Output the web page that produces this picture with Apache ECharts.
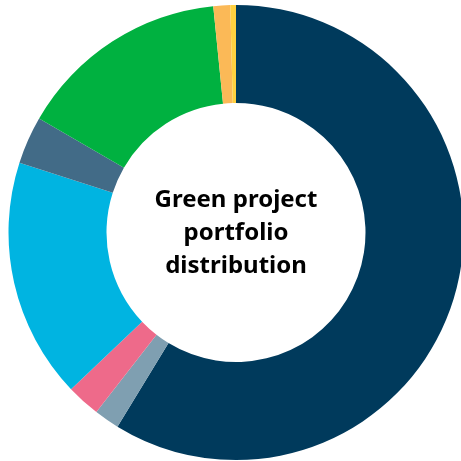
<!DOCTYPE html>
<html>
<head>
<meta charset="utf-8">
<script src="https://cdn.jsdelivr.net/npm/echarts@6/dist/echarts.min.js"></script>
<style>
  html, body { margin: 0; padding: 0; background: #fff; }
  #chart { width: 461px; height: 461px; }
</style>
</head>
<body>
<div id="chart"></div>
<script>
// slices, clockwise from 12 o'clock
var categories = ["Segment 1", "Segment 2", "Segment 3", "Segment 4", "Segment 5", "Segment 6", "Segment 7", "Segment 8"];
var shares = [58.9, 1.8, 2.4, 17.1, 3.4, 15.1, 1.2, 0.4];
var colors = ["#003a5c", "#7f9fb1", "#ee6a8a", "#00b4e1", "#426b87", "#00b140", "#fbb957", "#ffd140"];
var centerTitle = "Green project\nportfolio\ndistribution";

var myChart = echarts.init(document.getElementById("chart"));

var option = {
  animation: false,
  color: colors,
  graphic: [
    {
      type: "text",
      x: 236,
      y: 233,
      style: {
        text: centerTitle,
        fill: "#000",
        font: "bold 24px 'Noto Sans'",
        lineHeight: 33,
        align: "center",
        verticalAlign: "middle"
      }
    }
  ],
  series: [
    {
      type: "pie",
      center: [236, 232.5],
      radius: [129.5, 227.5],
      startAngle: 90,
      clockwise: true,
      label: { show: false },
      labelLine: { show: false },
      emphasis: { disabled: true },
      data: categories.map(function (c, i) {
        return { name: c, value: shares[i] };
      })
    }
  ]
};
myChart.setOption(option);
</script>
</body>
</html>
